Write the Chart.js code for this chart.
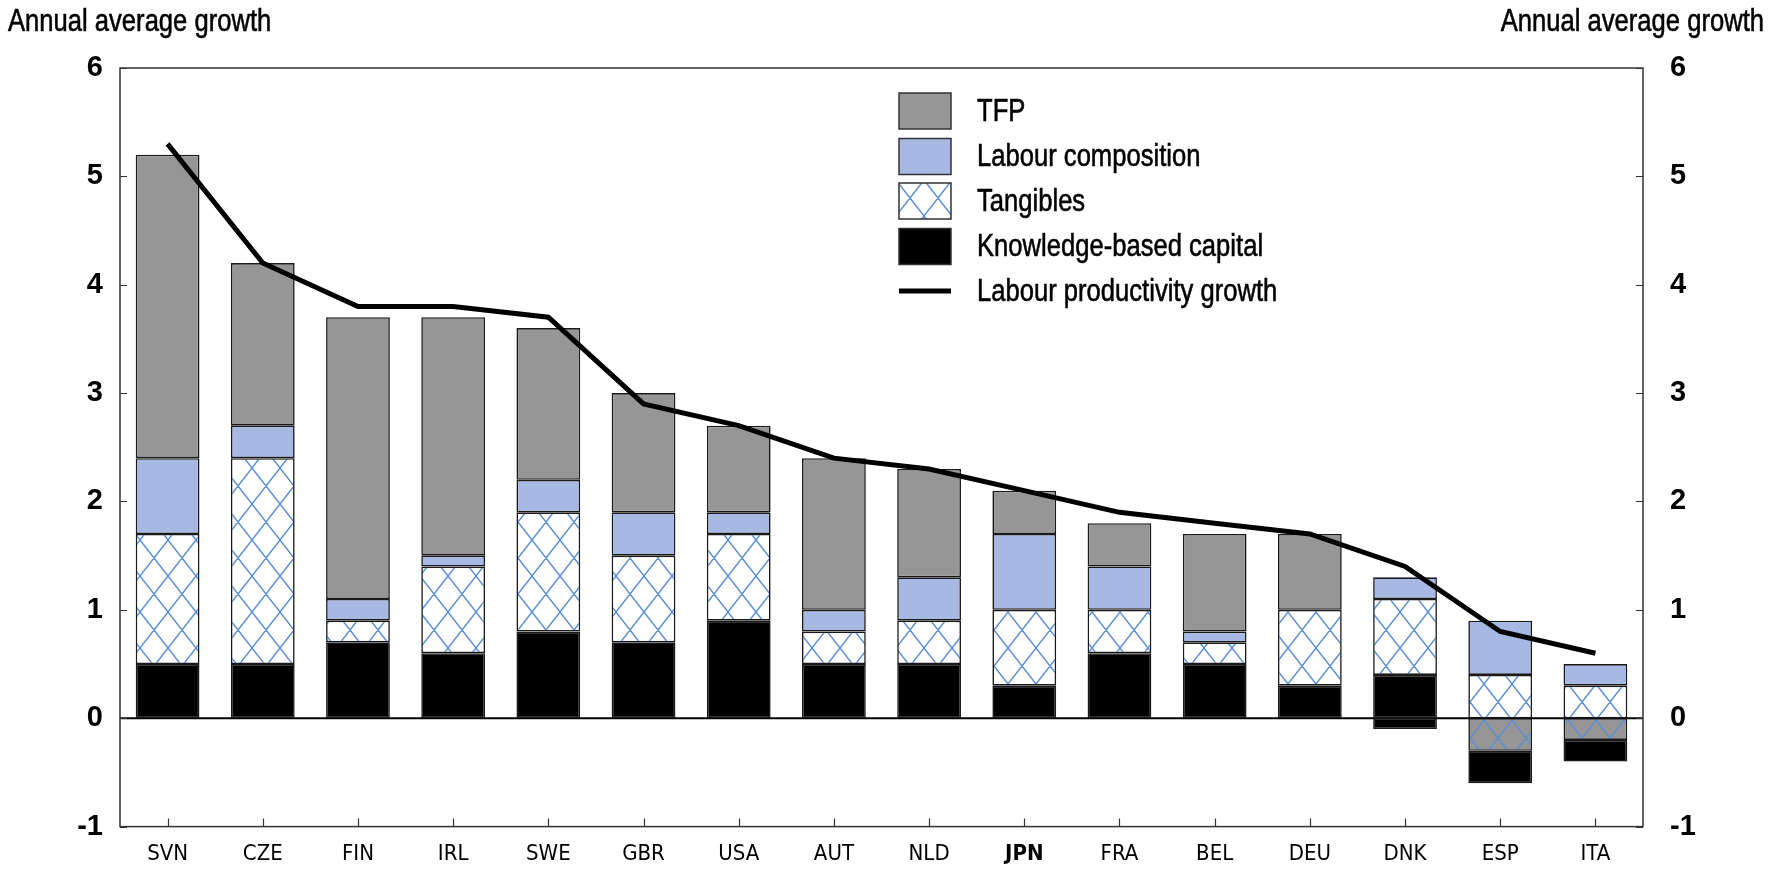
<!DOCTYPE html>
<html><head><meta charset="utf-8">
<script src="https://cdn.jsdelivr.net/npm/chart.js@4.4.1/dist/chart.umd.min.js"></script>
<style>html,body{margin:0;padding:0;background:#fff}canvas{display:block}</style>
</head><body>
<canvas id="c" width="1769" height="871"></canvas>
<script>
// ---- data ----
const categories = ['SVN','CZE','FIN','IRL','SWE','GBR','USA','AUT','NLD','JPN','FRA','BEL','DEU','DNK','ESP','ITA'];
const kbc        = [0.5, 0.5, 0.7, 0.6, 0.8, 0.7, 0.9, 0.5, 0.5, 0.3, 0.6, 0.5, 0.3, 0.4, -0.3, -0.2];
const tangibles  = [1.2, 1.9, 0.2, 0.8, 1.1, 0.8, 0.8, 0.3, 0.4, 0.7, 0.4, 0.2, 0.7, 0.7, 0.4, 0.3];
const labourComp = [0.7, 0.3, 0.2, 0.1, 0.3, 0.4, 0.2, 0.2, 0.4, 0.7, 0.4, 0.1, 0.0, 0.2, 0.5, 0.2];
const tfp        = [2.8, 1.5, 2.6, 2.2, 1.4, 1.1, 0.8, 1.4, 1.0, 0.4, 0.4, 0.9, 0.7, -0.1, -0.3, -0.2];
const lpGrowth   = [5.3, 4.2, 3.8, 3.8, 3.7, 2.9, 2.7, 2.4, 2.3, 2.1, 1.9, 1.8, 1.7, 1.4, 0.8, 0.6];
const yTicks     = [-1, 0, 1, 2, 3, 4, 5, 6];
const axisTitle  = 'Annual average growth';
const highlight  = 'JPN';

// ---- styles ----
const SANS = '"Liberation Sans",Arial,sans-serif';
const COND = '"DejaVu Sans Condensed","Liberation Sans",Arial,sans-serif';
const SQUEEZE = 0.8;
const C_TFP = '#969696', C_LAB = '#a7b8e2', C_KBC = '#000000', C_HATCH = '#5b8fd3';

function makeHatch(bg){
  const w = 28, h = 36;
  const t = document.createElement('canvas'); t.width = w; t.height = h;
  const g = t.getContext('2d');
  g.fillStyle = bg; g.fillRect(0,0,w,h);
  g.strokeStyle = C_HATCH; g.lineWidth = 1.4;
  g.beginPath();
  for (const dx of [-w,0,w]) for (const dy of [-h,0,h]) {
    g.moveTo(dx, dy); g.lineTo(dx+w, dy+h);
    g.moveTo(dx+w, dy); g.lineTo(dx, dy+h);
  }
  g.stroke();
  return g.createPattern(t, 'repeat');
}
const ctx = document.getElementById('c').getContext('2d');
const hatchWhite = makeHatch('#ffffff');
const hatchGray = makeHatch(C_TFP);
const tfpNegativeFill = { DNK: C_KBC }; // others: grey with tangibles hatch over it

const kbcPos = kbc.map(v => v > 0 ? v : null);
const kbcNeg = kbc.map(v => v < 0 ? v : null);

const barCommon = { type:'bar', borderColor:'#1a1a1a', borderWidth:1.6, borderSkipped:false,
  barPercentage:0.67, categoryPercentage:1.0, yAxisID:'y', stack:'s', order:1 };

const data = {
  labels: categories,
  datasets: [
    { ...barCommon, label:'Knowledge-based capital', data:kbcPos, backgroundColor:C_KBC },
    { ...barCommon, label:'Tangibles', data:tangibles, backgroundColor:hatchWhite },
    { ...barCommon, label:'Labour composition', data:labourComp, backgroundColor:C_LAB },
    { ...barCommon, label:'TFP', data:tfp,
      backgroundColor: c => {
        const v = tfp[c.dataIndex];
        if (v < 0) return tfpNegativeFill[categories[c.dataIndex]] || hatchGray;
        return C_TFP;
      } },
    { ...barCommon, label:'Knowledge-based capital (neg)', data:kbcNeg, backgroundColor:C_KBC },
    { type:'line', label:'Labour productivity growth', data:lpGrowth, borderColor:'#000',
      borderWidth:5, pointRadius:0, tension:0, fill:false, yAxisID:'y', stack:'lp', order:0,
      borderJoinStyle:'miter' }
  ]
};

const legendItems = [
  { label:'TFP', fill:C_TFP },
  { label:'Labour composition', fill:C_LAB },
  { label:'Tangibles', fill:hatchWhite },
  { label:'Knowledge-based capital', fill:C_KBC },
  { label:'Labour productivity growth', line:true }
];

function squeezedText(g, text, x, y, align){
  g.save();
  g.translate(x, y); g.scale(SQUEEZE, 1);
  g.textAlign = align;
  g.lineWidth = 0.6; g.strokeStyle = '#000';
  g.fillText(text, 0, 0); g.strokeText(text, 0, 0);
  g.restore();
}

const decor = {
  id:'decor',
  beforeDatasetsDraw(chart){
    const a = chart.chartArea, g = chart.ctx, y = chart.scales.y;
    g.save();
    g.strokeStyle = '#000'; g.lineWidth = 2;
    g.beginPath(); g.moveTo(a.left, y.getPixelForValue(0)); g.lineTo(a.right, y.getPixelForValue(0)); g.stroke();
    g.restore();
  },
  afterDraw(chart){
    const a = chart.chartArea, g = chart.ctx, y = chart.scales.y, x = chart.scales.x;
    g.save();
    // frame
    g.strokeStyle = '#333'; g.lineWidth = 1.5;
    g.strokeRect(a.left, a.top, a.right - a.left, a.bottom - a.top);
    // inner ticks
    g.beginPath();
    yTicks.forEach(v => {
      const py = Math.round(y.getPixelForValue(v)) + 0.5;
      g.moveTo(a.left, py); g.lineTo(a.left + 7, py);
      g.moveTo(a.right, py); g.lineTo(a.right - 7, py);
    });
    categories.forEach((c, i) => {
      const px = Math.round(x.getPixelForValue(i)) + 0.5;
      g.moveTo(px, a.bottom); g.lineTo(px, a.bottom - 8);
    });
    g.lineWidth = 1.2; g.stroke();
    // axis titles
    g.fillStyle = '#000'; g.font = '32px ' + SANS; g.textBaseline = 'middle';
    squeezedText(g, axisTitle, 8, 22, 'left');
    squeezedText(g, axisTitle, 1764, 22, 'right');
    // legend
    const sx = 899, sw = 52, sh = 36, tx = 977;
    const rows = [111, 156.5, 201, 246.5, 291];
    legendItems.forEach((it, i) => {
      const cy = rows[i];
      if (it.line) {
        g.strokeStyle = '#000'; g.lineWidth = 5;
        g.beginPath(); g.moveTo(sx, cy); g.lineTo(sx + sw, cy); g.stroke();
      } else {
        g.fillStyle = it.fill; g.fillRect(sx, cy - sh/2, sw, sh);
        g.strokeStyle = '#333'; g.lineWidth = 1.5; g.strokeRect(sx, cy - sh/2, sw, sh);
      }
      g.fillStyle = '#000';
      squeezedText(g, it.label, tx, cy + 1, 'left');
    });
    g.restore();
  }
};

new Chart(ctx, {
  data,
  options: {
    responsive:false, animation:false,
    layout:{ padding:{ top:68, left:0, right:0, bottom:0 } },
    plugins:{ legend:{display:false}, tooltip:{enabled:false} },
    scales:{
      x:{ stacked:true, grid:{display:false, drawTicks:false}, border:{display:false},
        afterFit: s => { s.height = 39; },
        ticks:{ color:'#000', padding:14, maxRotation:0, autoSkip:false,
          font: c => ({ family:COND, size:22, weight: categories[c.index] === highlight ? 'bold' : 'normal' }) } },
      y:{ position:'left', stacked:true, min:-1, max:6, grid:{display:false, drawTicks:false}, border:{display:false},
        afterFit: s => { s.width = 120; },
        afterBuildTicks: s => { s.ticks = yTicks.map(v => ({ value:v })); },
        ticks:{ color:'#000', padding:17, font:{ family:SANS, size:29, weight:'bold' } } },
      y2:{ position:'right', min:-1, max:6, grid:{display:false, drawTicks:false}, border:{display:false},
        afterFit: s => { s.width = 126; },
        afterBuildTicks: s => { s.ticks = yTicks.map(v => ({ value:v })); },
        ticks:{ color:'#000', padding:27, font:{ family:SANS, size:29, weight:'bold' } } }
    }
  },
  plugins:[decor]
});
</script>
</body></html>
